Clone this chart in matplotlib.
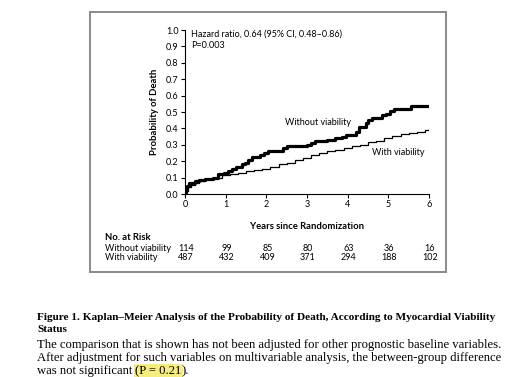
import matplotlib
matplotlib.use("Agg")
import matplotlib.pyplot as plt
from matplotlib.patches import Rectangle

# Kaplan-Meier curves (years, cumulative probability of death)
t_without = [0.0, 0.03, 0.06, 0.1, 0.15, 0.25, 0.35, 0.5, 0.7, 0.8, 0.95, 1.05,
             1.15, 1.25, 1.4, 1.48, 1.55, 1.65, 1.85, 1.95, 2.05, 2.4, 2.5, 3.0,
             3.1, 3.2, 3.5, 3.7, 3.85, 3.95, 4.2, 4.28, 4.45, 4.5, 4.6, 4.85,
             4.95, 5.05, 5.15, 5.55, 6.0]
p_without = [0.0, 0.03, 0.05, 0.065, 0.07, 0.08, 0.085, 0.09, 0.10, 0.12, 0.13, 0.14,
             0.155, 0.165, 0.18, 0.19, 0.21, 0.225, 0.24, 0.25, 0.26, 0.28, 0.29, 0.30,
             0.31, 0.325, 0.33, 0.34, 0.35, 0.36, 0.38, 0.41, 0.43, 0.45, 0.465, 0.48,
             0.49, 0.505, 0.52, 0.535, 0.535]

t_with = [0.0, 0.03, 0.08, 0.15, 0.25, 0.35, 0.5, 0.7, 0.9, 1.1, 1.3, 1.5, 1.7, 1.9,
          2.1, 2.3, 2.5, 2.7, 2.9, 3.1, 3.3, 3.5, 3.7, 3.9, 4.1, 4.3, 4.5, 4.7, 4.9,
          5.1, 5.3, 5.5, 5.7, 5.9, 6.0]
p_with = [0.0, 0.02, 0.04, 0.055, 0.07, 0.08, 0.09, 0.10, 0.115, 0.125, 0.13, 0.14, 0.145, 0.155,
          0.165, 0.18, 0.19, 0.205, 0.22, 0.235, 0.25, 0.26, 0.27, 0.28, 0.29, 0.30, 0.315, 0.325, 0.34,
          0.355, 0.365, 0.375, 0.38, 0.39, 0.39]

years = [0, 1, 2, 3, 4, 5, 6]
at_risk_without = [114, 99, 85, 80, 63, 36, 16]
at_risk_with = [487, 432, 409, 371, 294, 188, 102]

sans = ["Lato", "DejaVu Sans"]
serif = ["Liberation Serif", "DejaVu Serif"]

W, H = 515, 377
fig = plt.figure(figsize=(W / 100, H / 100), dpi=100)

def fx(px):
    return px / W

def fy(py):
    return 1 - py / H

# grey frame around the figure panel
fig.patches.append(Rectangle((fx(90), fy(272)), fx(446) - fx(90), fy(12) - fy(272),
                             transform=fig.transFigure, fill=False,
                             edgecolor="#8a8a8a", lw=1.4))

ax = fig.add_axes([fx(185), fy(194), fx(429) - fx(185), fy(30) - fy(194)])
ax.step(t_without, p_without, where="post", color="black", lw=2.3)
ax.step(t_with, p_with, where="post", color="black", lw=0.9)

ax.set_xlim(0, 6)
ax.set_ylim(0, 1.0)
ax.set_xticks(years)
ax.set_yticks([i / 10 for i in range(11)])
ax.set_yticklabels([f"{i / 10:.1f}" for i in range(11)])
for s in ["top", "right"]:
    ax.spines[s].set_visible(False)
for s in ["left", "bottom"]:
    ax.spines[s].set_linewidth(0.8)
ax.tick_params(direction="out", length=3, width=0.8, pad=1.5, labelsize=6.5)
for lab in ax.get_xticklabels() + ax.get_yticklabels():
    lab.set_family(sans)

ax.set_ylabel("Probability of Death", family=sans, fontsize=6.8, fontweight="bold", labelpad=5)
ax.set_xlabel("Years since Randomization", family=sans, fontsize=6.8, fontweight="bold", labelpad=9)

ax.text(0.14, 0.975, "Hazard ratio, 0.64 (95% CI, 0.48\u20130.86)", family=sans,
        fontsize=6.5, va="center")
ax.text(0.14, 0.905, "P=0.003", family=sans, fontsize=6.5, va="center")
ax.text(2.45, 0.435, "Without viability", family=sans, fontsize=6.5, va="center")
ax.text(4.6, 0.255, "With viability", family=sans, fontsize=6.5, va="center")

# number at risk table
fig.text(fx(105), fy(237), "No. at Risk", family=sans, fontsize=6.8, fontweight="bold", va="center")
fig.text(fx(105), fy(249), "Without viability", family=sans, fontsize=6.5, va="center")
fig.text(fx(105), fy(258), "With viability", family=sans, fontsize=6.5, va="center")
for yr, a, b in zip(years, at_risk_without, at_risk_with):
    xp = fx(185 + (429 - 185) * yr / 6 + 1)
    fig.text(xp, fy(249), str(a), family=sans, fontsize=6.5, ha="center", va="center")
    fig.text(xp, fy(258), str(b), family=sans, fontsize=6.5, ha="center", va="center")

# caption
cap_bold = 8.15
cap_size = 9.05
fig.text(fx(37), fy(318), "Figure 1. Kaplan\u2013Meier Analysis of the Probability of Death, "
         "According to Myocardial Viability", family=serif, fontsize=cap_bold,
         fontweight="bold", va="center")
fig.text(fx(37), fy(330), "Status", family=serif, fontsize=cap_bold, fontweight="bold", va="center")
fig.text(fx(37), fy(345), "The comparison that is shown has not been adjusted for other "
         "prognostic baseline variables.", family=serif, fontsize=cap_size, va="center")
fig.text(fx(37), fy(358), "After adjustment for such variables on multivariable analysis, "
         "the between-group difference", family=serif, fontsize=cap_size, va="center")
t1 = fig.text(fx(37), fy(371), "was not significant", family=serif, fontsize=cap_size, va="center")
t2 = fig.text(0, 0, "(P = 0.21", family=serif, fontsize=cap_size, va="center",
              bbox=dict(facecolor="#f7ec7e", edgecolor="none", pad=0.6))
t3 = fig.text(0, 0, ").", family=serif, fontsize=cap_size, va="center")

fig.canvas.draw()
r = fig.canvas.get_renderer()
b1 = t1.get_window_extent(r)
t2.set_position((fx(b1.x1 + 3), fy(371)))
fig.canvas.draw()
b2 = t2.get_window_extent(r)
t3.set_position((fx(b2.x1 + 0.3), fy(371)))

fig.savefig("out.png", dpi=100)
